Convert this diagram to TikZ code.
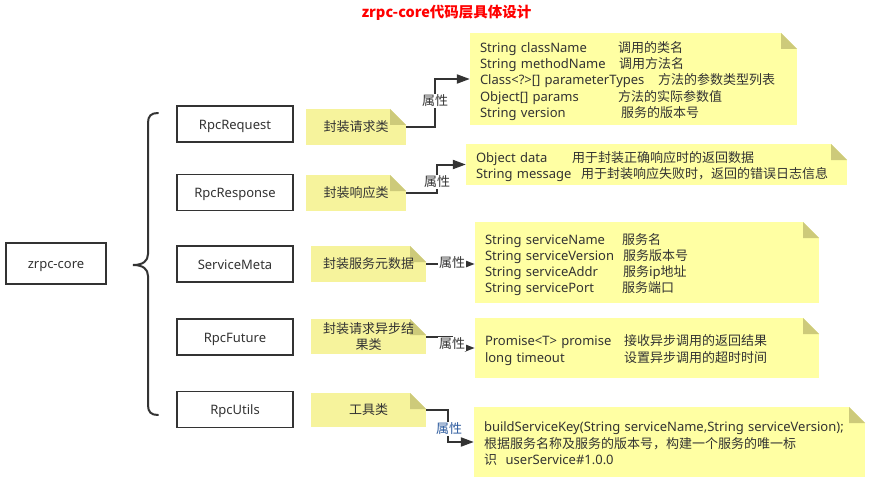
\documentclass[tikz,border=0pt]{standalone}
\usepackage{fontspec}
\setmainfont{Noto Sans}
\newfontfamily\cjk{Noto Sans CJK SC}
\newcommand\zh[1]{{\cjk #1}}
\newcommand\topfix{\rule{0pt}{16pt}}
\newcommand\botfix{\rule[-4pt]{0pt}{4pt}}
\usetikzlibrary{arrows.meta,calc}
\definecolor{ink}{HTML}{333333}
\definecolor{notebig}{HTML}{FFFFA3}
\definecolor{notesmall}{HTML}{F6F39C}
\definecolor{foldc}{HTML}{CDCA7A}
\definecolor{titlered}{HTML}{FF0000}
\definecolor{lblblue}{HTML}{2D5B9E}
\begin{document}
\begin{tikzpicture}[x=1pt,y=-1pt,
  every node/.style={font=\fontsize{13}{16.2}\selectfont, text=ink},
  cls/.style={draw=ink, line width=1.6pt, minimum width=116pt, minimum height=36pt, inner sep=0pt, fill=white, text height=11pt, text depth=1pt},
  note/.style={fill=#1, inner sep=0pt, path picture={
      \fill[white] ([xshift=-16pt]path picture bounding box.north east) -- (path picture bounding box.north east) -- ([yshift=-16pt]path picture bounding box.north east) -- cycle;
      \fill[foldc] ([xshift=-16pt]path picture bounding box.north east) -- ([xshift=-16pt,yshift=-16pt]path picture bounding box.north east) -- ([yshift=-16pt]path picture bounding box.north east) -- cycle;
    }},
  bignote/.style={note=notebig, align=left, inner xsep=10pt},
  smallnote/.style={note=notesmall, align=center},
  conn/.style={draw=ink, line width=2pt},
  bigtip/.style={-{Triangle[length=13pt,width=9pt]}},
  smalltip/.style={-{Triangle[length=10pt,width=7pt]}},
  lbl/.style={fill=white, inner sep=1pt},
  bracestyle/.style={draw=ink, line width=2pt, line cap=round}
]
\useasboundingbox (0,0) rectangle (875,484);
\fill[white] (0,0) rectangle (875,484);

% title
\node[font=\fontsize{14.5}{16}\cjk\bfseries, text=titlered] (title) at (446.5,13) {zrpc-core代码层具体设计};

% root and brace
\node[cls, minimum width=100pt, minimum height=41pt] (core) at (56,263.5) {zrpc-core};
\draw[bracestyle] (158,113) .. controls (151,113) and (148,116) .. (148,123) -- (148,254)
  .. controls (148,261) and (143,265) .. (133,265)
  .. controls (143,265) and (148,269) .. (148,276) -- (148,405)
  .. controls (148,412) and (151,415) .. (158,415);

% class boxes
\node[cls] (req) at (235,124) {RpcRequest};
\node[cls] (resp) at (235,192.5) {RpcResponse};
\node[cls] (meta) at (235,264) {ServiceMeta};
\node[cls] (fut) at (235,337) {RpcFuture};
\node[cls] (util) at (235,409.5) {RpcUtils};

% small notes
\node[smallnote, minimum width=100pt, minimum height=36pt] (s1) at (356,127) {\zh{封装请求类}};
\node[smallnote, minimum width=100pt, minimum height=36pt] (s2) at (356,193) {\zh{封装响应类}};
\node[smallnote, minimum width=115pt, minimum height=36pt] (s3) at (368.5,264) {\zh{封装服务元数据}};
\node[smallnote, minimum width=115pt, minimum height=35pt] (s4) at (368.5,336.5) {\zh{封装请求异步结}\\\zh{果类}};
\node[smallnote, minimum width=115pt, minimum height=34pt] (s5) at (368.5,410) {\zh{工具类}};

% big notes
\node[bignote, minimum height=92pt, text width=307pt] (n1) at (633.5,79) {%
\mbox{\topfix\makebox[138pt][l]{String className}\zh{调用的类名}}\\
\mbox{\makebox[139pt][l]{String methodName}\zh{调用方法名}}\\
\mbox{\makebox[178pt][l]{Class<?>[] parameterTypes}\zh{方法的参数类型列表}}\\
\mbox{\makebox[138pt][l]{Object[] params}\zh{方法的实际参数值}}\\
\mbox{\makebox[141pt][l]{String version}\zh{服务的版本号}\botfix}};
\node[bignote, minimum height=41pt, text width=361pt] (n2) at (656.5,164.5) {%
\mbox{\topfix\makebox[96pt][l]{Object data}\zh{用于封装正确响应时的返回数据}}\\
\mbox{\makebox[105pt][l]{String message}\zh{用于封装响应失败时，返回的错误日志信息}\botfix}};
\node[bignote, minimum height=81pt, text width=324pt] (n3) at (647,262.5) {%
\mbox{\topfix\makebox[137pt][l]{String serviceName}\zh{服务名}}\\
\mbox{\makebox[138pt][l]{String serviceVersion}\zh{服务版本号}}\\
\mbox{\makebox[138pt][l]{String serviceAddr}\zh{服务ip地址}}\\
\mbox{\makebox[137pt][l]{String servicePort}\zh{服务端口}\botfix}};
\node[bignote, minimum height=60pt, text width=324pt] (n4) at (647,348) {%
\mbox{\topfix\makebox[139pt][l]{Promise<T> promise}\zh{接收异步调用的返回结果}}\\
\mbox{\makebox[139pt][l]{long timeout}\zh{设置异步调用的超时时间}\botfix}};
\node[bignote, minimum height=70pt, text width=371pt] (n5) at (669.5,442) {%
\mbox{\topfix buildServiceKey(String serviceName,String serviceVersion);}\\
\mbox{\zh{根据服务名称及服务的版本号，构建一个服务的唯一标}}\\
\mbox{\zh{识}\ \ userService\#1.0.0\botfix}};

% connectors
\draw[conn, bigtip] (s1.east) -- ++(29,0) |- (n1.west);
\draw[conn, bigtip] (s2.east) -- ++(31,0) |- (n2.west);
\draw[conn, smalltip] (s3.east) -- (s3.east -| n3.west);
\draw[conn, smalltip] (s4.east) -- ++(26,0) |- (n4.west);
\draw[conn, bigtip] (s5.east) -- ++(22,0) |- (n5.west);

% labels
\node[lbl] (p1) at (435,101) {\zh{属性}};
\node[lbl] (p2) at (437,182) {\zh{属性}};
\node[lbl] (p3) at (452,263) {\zh{属性}};
\node[lbl] (p4) at (452,344) {\zh{属性}};
\node[lbl, text=lblblue] (p5) at (449,429) {\zh{属性}};
\end{tikzpicture}
\end{document}
